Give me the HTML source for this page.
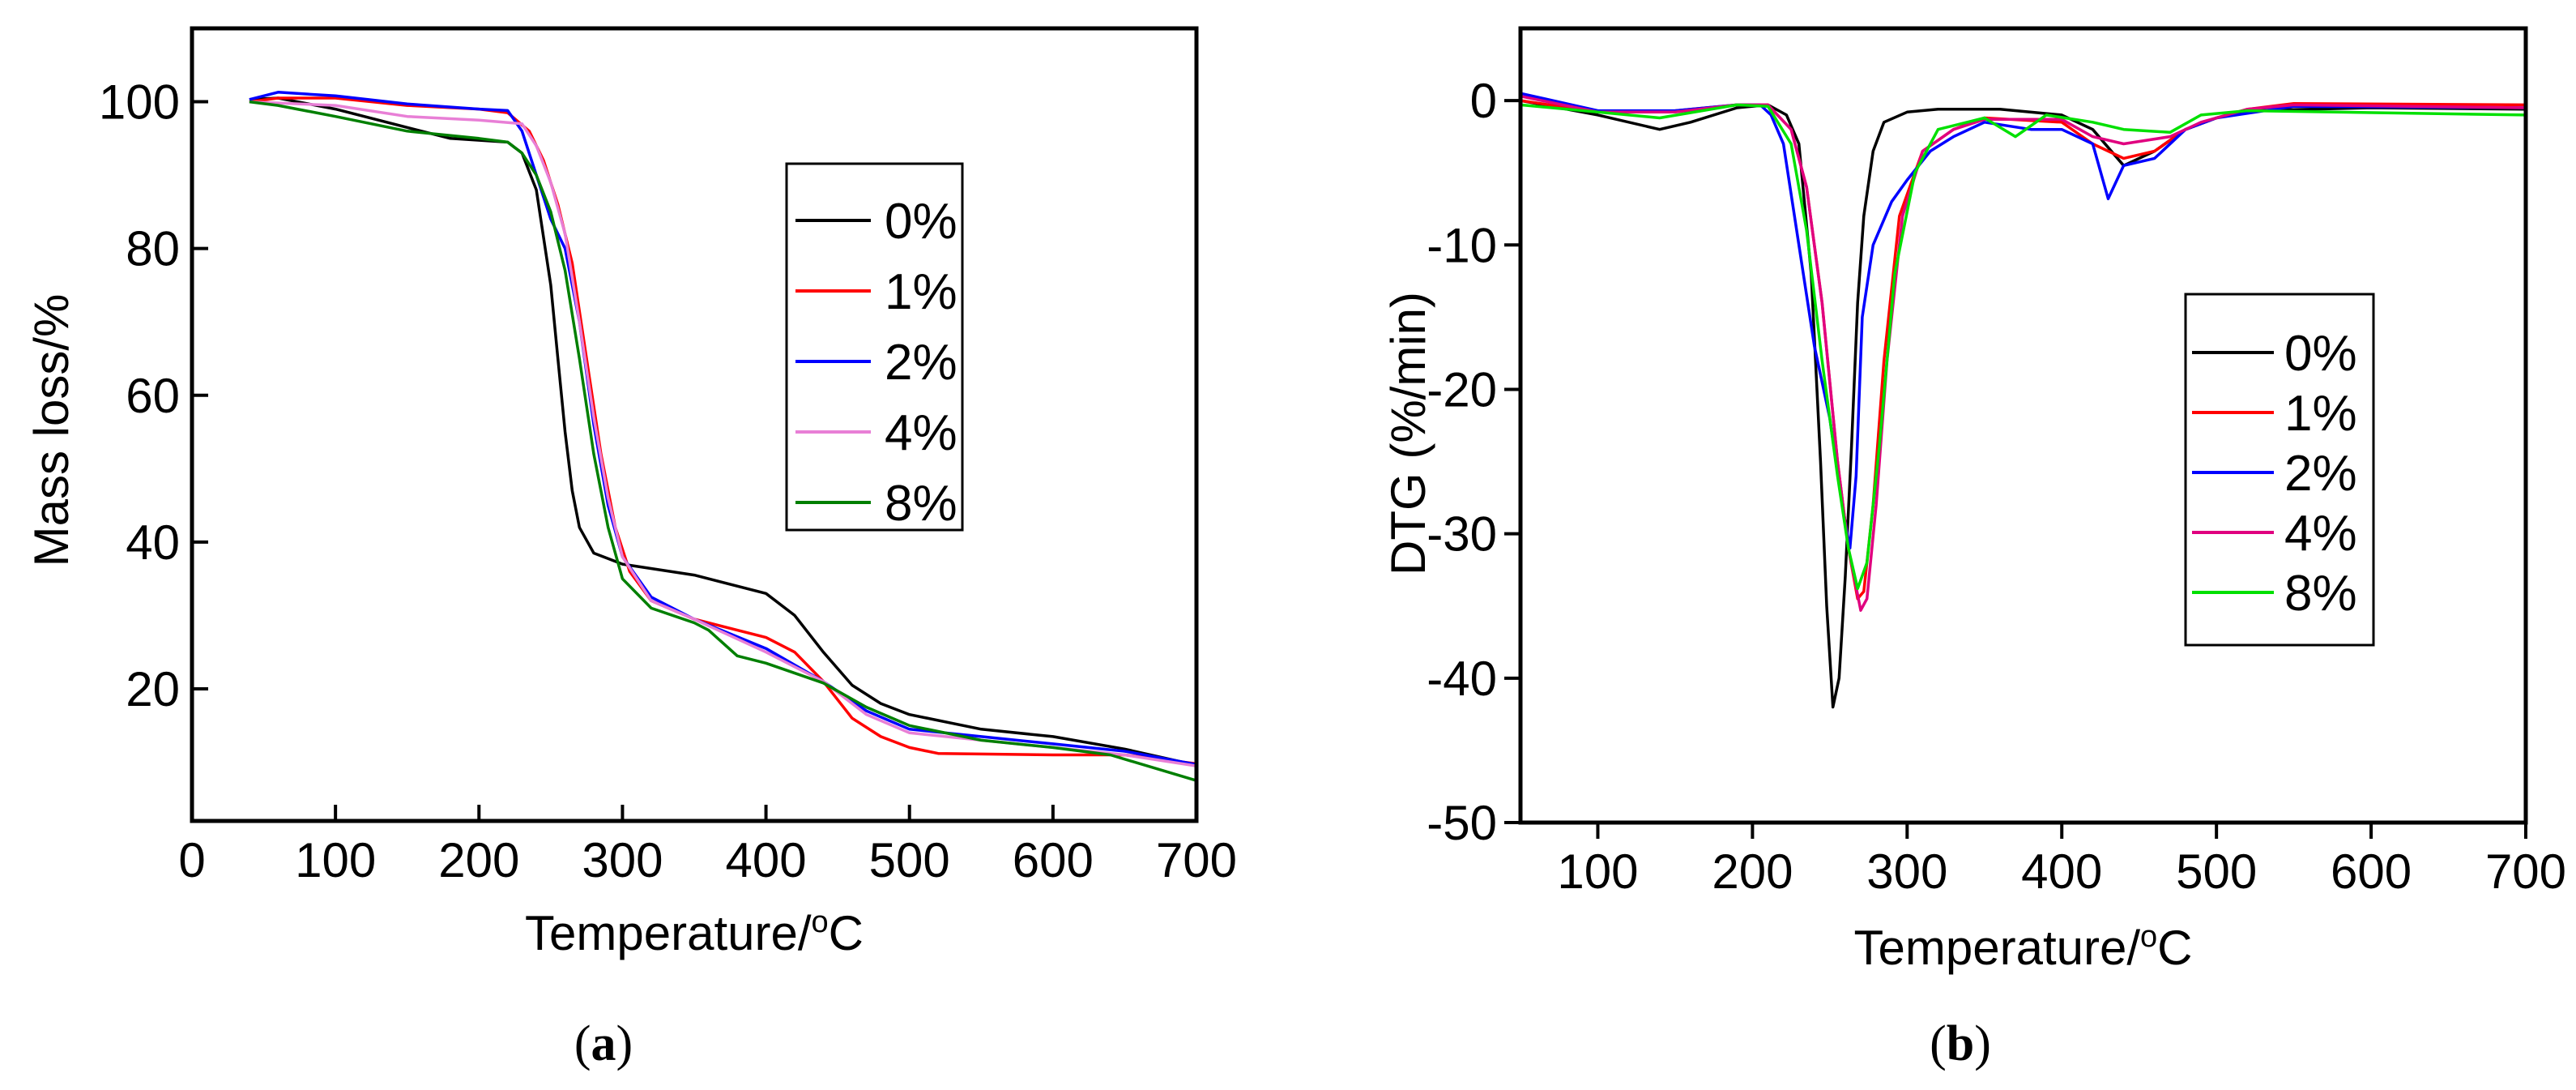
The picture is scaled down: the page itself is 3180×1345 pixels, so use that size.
<!DOCTYPE html>
<html><head><meta charset="utf-8"><style>
html,body{margin:0;padding:0;background:#fff}
svg{display:block}
text{font-family:"Liberation Sans",Arial,sans-serif;fill:#000}
</style></head><body>
<svg id="fig" width="3180" height="1345" viewBox="0 0 3180 1345" xmlns="http://www.w3.org/2000/svg">
<g id="ga"></g>
<g id="gb"></g>
<text x="745" y="1308" font-size="62" text-anchor="middle" style="font-family:'Liberation Serif',serif">(<tspan font-weight="bold">a</tspan>)</text>
<text x="2420" y="1308" font-size="62" text-anchor="middle" style="font-family:'Liberation Serif',serif">(<tspan font-weight="bold">b</tspan>)</text>
</svg>
<script>
const seriesNames = ["0%","1%","2%","4%","8%"];
const colorsA = ["#000000","#ff0000","#0000ff","#e87fd6","#007f00"];
const colorsB = ["#000000","#ff0000","#0000ff","#e0007f","#00e000"];
const xTicksA = [0,100,200,300,400,500,600,700];
const yTicksA = [20,40,60,80,100];
const xTicksB = [100,200,300,400,500,600,700];
const yTicksB = [0,-10,-20,-30,-40,-50];
// TG data: [temperature, mass %]
const tg0 = [[40,100.3],[60,100.5],[100,99],[150,96.5],[180,95],[220,94.5],[230,93],[240,88],[250,75],[255,65],[260,55],[265,47],[270,42],[280,38.5],[300,37],[350,35.5],[400,33],[420,30],[440,25],[460,20.5],[480,18],[500,16.5],[550,14.5],[600,13.5],[650,11.8],[700,9.6]];
const tg1 = [[40,100],[60,100.5],[100,100.5],[150,99.5],[200,99],[220,98.5],[235,96],[245,92],[255,86],[265,78],[275,65],[285,52],[295,42],[305,36],[320,32],[350,29.5],[400,27],[420,25],[440,21],[460,16],[480,13.5],[500,12],[520,11.2],[600,11],[650,11],[700,9.8]];
const tg2 = [[40,100.3],[60,101.3],[100,100.8],[150,99.7],[200,99],[220,98.8],[230,96],[240,90],[250,84],[260,80],[270,70],[280,56],[290,45],[300,38],[320,32.5],[350,29.5],[400,25.5],[440,21],[470,17],[500,14.5],[550,13.5],[600,12.5],[650,11.5],[700,9.7]];
const tg4 = [[40,100],[100,99.5],[150,98],[200,97.5],[230,97],[240,94],[250,89],[260,82],[270,70],[280,57],[290,46],[300,38],[320,32],[350,29.5],[400,25],[440,21],[470,16.5],[500,14],[550,13],[600,12],[650,11],[700,9.5]];
const tg8 = [[40,100],[60,99.5],[100,98],[150,96],[200,95],[220,94.5],[230,93],[240,90],[250,85],[260,77],[270,65],[280,52],[290,42],[300,35],[320,31],[350,29],[360,28],[380,24.5],[400,23.5],[440,20.8],[470,17.5],[500,15],[550,13],[600,12],[640,11],[700,7.5]];
// DTG data: [temperature, %/min]
const dtg0 = [[50,0],[100,-1],[140,-2],[160,-1.5],[190,-0.5],[210,-0.3],[222,-1],[230,-3],[238,-12],[244,-25],[248,-35],[252,-42],[256,-40],[260,-33],[264,-24],[268,-14],[272,-8],[278,-3.5],[285,-1.5],[300,-0.8],[320,-0.6],[360,-0.6],[400,-1],[420,-2],[440,-4.5],[460,-3.5],[480,-2],[500,-1.2],[520,-0.7],[600,-0.5],[700,-0.6]];
const dtg1 = [[50,0],[100,-0.8],[150,-0.7],[190,-0.3],[210,-0.3],[225,-2],[235,-6],[245,-14],[255,-25],[262,-31],[268,-34.5],[272,-34],[278,-28],[285,-18],[295,-8],[310,-3.5],[330,-2],[350,-1.2],[400,-1.5],[420,-3],[440,-4],[460,-3.5],[480,-2],[500,-1.2],[520,-0.6],[550,-0.2],[700,-0.3]];
const dtg2 = [[50,0.5],[100,-0.7],[150,-0.7],[190,-0.3],[205,-0.3],[212,-1],[220,-3],[230,-10],[240,-17],[250,-22],[258,-28],[263,-31],[267,-26],[271,-15],[278,-10],[290,-7],[300,-5.5],[315,-3.5],[330,-2.5],[350,-1.5],[380,-2],[400,-2],[420,-3],[430,-6.8],[440,-4.5],[460,-4],[480,-2],[500,-1.2],[550,-0.4],[700,-0.5]];
const dtg4 = [[50,0.3],[100,-0.8],[150,-0.8],[190,-0.3],[210,-0.3],[225,-2],[235,-6],[245,-14],[255,-25],[262,-31],[270,-35.3],[274,-34.5],[280,-28],[287,-18],[297,-8],[310,-3.5],[330,-2],[350,-1.3],[400,-1.3],[420,-2.5],[440,-3],[470,-2.5],[490,-1.5],[520,-0.6],[550,-0.3],[700,-0.5]];
const dtg8 = [[50,-0.3],[100,-0.8],[140,-1.2],[190,-0.3],[210,-0.4],[225,-3],[235,-9],[245,-18],[255,-26],[262,-31],[268,-33.8],[274,-32],[282,-24],[292,-12],[305,-5],[320,-2],[350,-1.2],[370,-2.5],[390,-1],[420,-1.5],[440,-2],[470,-2.2],[490,-1],[520,-0.7],[700,-1]];
const dataA = [tg0,tg1,tg2,tg4,tg8];
const dataB = [dtg0,dtg1,dtg2,dtg4,dtg8];

const NS="http://www.w3.org/2000/svg";
function mk(parent,tag,attrs){const e=document.createElementNS(NS,tag);for(const k in attrs)e.setAttribute(k,attrs[k]);parent.appendChild(e);return e;}

function drawChart(g,cfg){
  const sx=v=>cfg.L+(v-cfg.x0)/(cfg.x1-cfg.x0)*(cfg.R-cfg.L);
  const sy=v=>cfg.B-(v-cfg.y0)/(cfg.y1-cfg.y0)*(cfg.B-cfg.T);
  cfg.data.forEach((d,i)=>{
    const p=mk(g,'polyline',{points:d.map(q=>sx(q[0]).toFixed(1)+','+sy(q[1]).toFixed(1)).join(' '),fill:'none',stroke:cfg.colors[i],'stroke-width':3.5,'stroke-linejoin':'round'});
    
    
  });
  const frame=mk(g,'rect',{x:cfg.L,y:cfg.T,width:cfg.R-cfg.L,height:cfg.B-cfg.T,fill:'none',stroke:'#000','stroke-width':5});
  
  
  cfg.xt.forEach(v=>{
    const x=sx(v);
    const t=mk(g,'line',{x1:x,x2:x,y1:cfg.B,y2:cfg.B+cfg.tickDir*20,stroke:'#000','stroke-width':4});
    
    
    const l=mk(g,'text',{x:x,y:cfg.xlY,'font-size':60,'text-anchor':'middle'});l.textContent=v;
    
    
  });
  cfg.yt.forEach(v=>{
    const y=sy(v);
    const t=mk(g,'line',{x1:cfg.L,x2:cfg.L+cfg.ytickDir*20,y1:y,y2:y,stroke:'#000','stroke-width':4});
    
    
    const l=mk(g,'text',{x:cfg.ylX,y:y+21,'font-size':60,'text-anchor':'end'});l.textContent=v;
    
    
  });
  const xt=mk(g,'text',{x:(cfg.L+cfg.R)/2,y:cfg.xtitleY,'font-size':60,'text-anchor':'middle'});
  xt.innerHTML='Temperature/<tspan dy="-22" font-size="38">o</tspan><tspan dy="22">C</tspan>';
  
  
  const yt=mk(g,'text',{x:0,y:0,'font-size':60,'text-anchor':'middle',transform:`translate(${cfg.ytitleX},${cfg.ytitleY}) rotate(-90)`});
  yt.textContent=cfg.ytitle;
  
  
  const lg=mk(g,'g',{});
  
  
  const lb=cfg.leg;
  mk(lg,'rect',{x:lb.x,y:lb.y,width:lb.w,height:lb.h,fill:'#fff',stroke:'#000','stroke-width':3});
  seriesNames.forEach((n,i)=>{
    const y=lb.y+lb.first+i*lb.step;
    const e=mk(lg,'g',{});
    
    
    mk(e,'line',{x1:lb.lx1,x2:lb.lx2,y1:y,y2:y,stroke:cfg.colors[i],'stroke-width':4});
    const t=mk(e,'text',{x:lb.tx,y:y+22,'font-size':62});t.textContent=n;
  });
}
drawChart(document.getElementById('ga'),{L:237,R:1477,T:35,B:1013,x0:0,x1:700,y0:2,y1:110,data:dataA,colors:colorsA,
  xt:xTicksA,yt:yTicksA,tickDir:-1,ytickDir:1,xlY:1082,ylX:222,xtitleY:1172,ytitle:'Mass loss/%',ytitleX:84,ytitleY:531,
  leg:{x:971,y:202,w:217,h:452,first:70,step:87,lx1:982,lx2:1075,tx:1092}});
drawChart(document.getElementById('gb'),{L:1877,R:3118,T:35,B:1015,x0:50,x1:700,y0:-50,y1:5,data:dataB,colors:colorsB,
  xt:xTicksB,yt:yTicksB,tickDir:1,ytickDir:-1,xlY:1096,ylX:1848,xtitleY:1190,ytitle:'DTG (%/min)',ytitleX:1759,ytitleY:535,
  leg:{x:2698,y:363,w:232,h:433,first:72,step:74,lx1:2706,lx2:2807,tx:2820}});
</script>
</body></html>
